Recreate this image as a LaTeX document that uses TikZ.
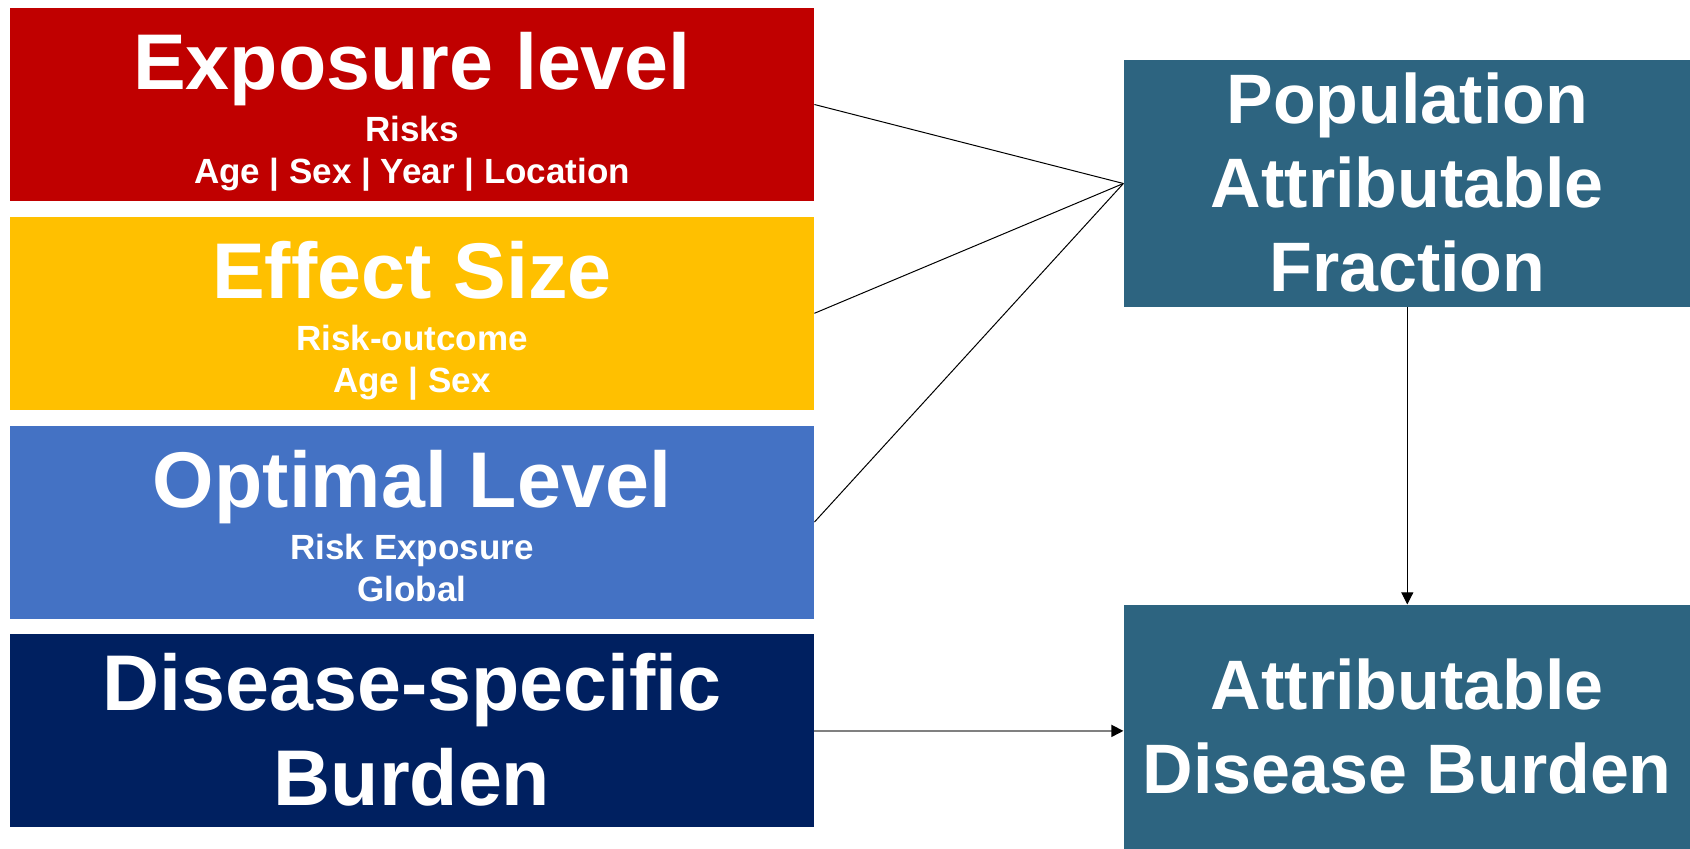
\documentclass[tikz,border=0pt]{standalone}
\usepackage{fontspec}
\setmainfont{Liberation Sans}
\usetikzlibrary{positioning,arrows.meta}

\definecolor{expred}{HTML}{C00000}
\definecolor{effyellow}{HTML}{FFC000}
\definecolor{optblue}{HTML}{4472C4}
\definecolor{disnavy}{HTML}{002060}
\definecolor{pafteal}{HTML}{2D6480}

\newcommand{\bigfont}{\fontsize{39.5}{47.4}\selectfont}
\newcommand{\smallfont}{\fontsize{17.5}{21}\selectfont}
\newcommand{\rightfont}{\fontsize{35}{42}\selectfont}
\newcommand{\topstrut}{\rule{0pt}{0.905em}}
\newcommand{\botstrut}{\rule[-0.212em]{0pt}{0pt}}

\begin{document}
\begin{tikzpicture}[node distance=7.5pt,
        factor/.style={rectangle,minimum width=402pt,minimum height=96.5pt,inner sep=0pt,
            text=white,font=\bfseries\smallfont,align=center},
        result/.style={rectangle,fill=pafteal,minimum width=283.5pt,inner sep=0pt,
            text=white,font=\bfseries\rightfont,align=center},
        link/.style={black,line width=0.5pt},
        tip/.style={-{Triangle[length=6pt,width=6pt,color=black]}}]

        \path[use as bounding box] (0,0) rectangle (845pt,424pt);

        % input boxes on the left
        \node[factor,fill=expred] (exposure) at (206pt,371.75pt)
            {\bigfont\topstrut Exposure level\\[5pt] Risks\\ Age | Sex | Year | Location\botstrut};
        \node[factor,fill=effyellow,below=of exposure] (effect)
            {\bigfont\topstrut Effect Size\\[5pt] Risk-outcome\\ Age | Sex\botstrut};
        \node[factor,fill=optblue,below=of effect] (optimal)
            {\bigfont\topstrut Optimal Level\\[5pt] Risk Exposure\\ Global\botstrut};
        \node[factor,fill=disnavy,font=\bfseries\bigfont,below=of optimal] (disease)
            {\topstrut Disease-specific\\ Burden\botstrut};

        % results on the right
        \node[result,minimum height=123.5pt,below right=26pt and 154.5pt of exposure.north east] (paf)
            {\topstrut Population\\ Attributable\\ Fraction\botstrut};
        \node[result,minimum height=122pt,below=148.5pt of paf] (adb)
            {\topstrut Attributable\\ Disease Burden\botstrut};

        \draw[link] (exposure.east) -- (paf.west);
        \draw[link] (effect.east) -- (paf.west);
        \draw[link] (optimal.east) -- (paf.west);
        \draw[link,tip] (paf) -- (adb);
        \draw[gray,line width=0.75pt,tip] (disease.east) -- (disease.east -| adb.west);
    \end{tikzpicture}
\end{document}
